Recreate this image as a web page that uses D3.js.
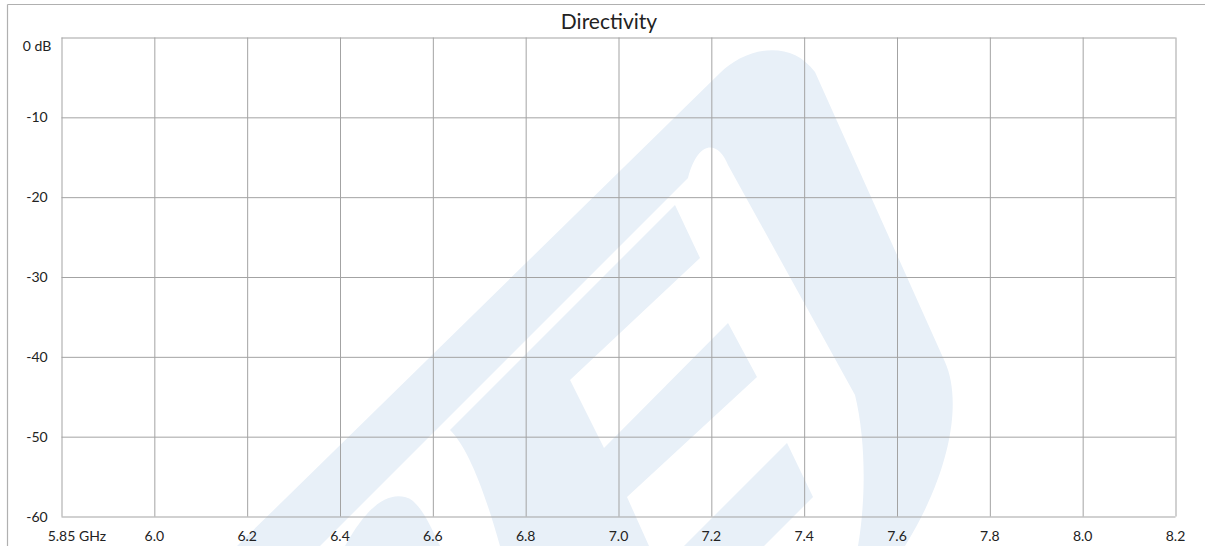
<!DOCTYPE html>
<html>
<head>
<meta charset="utf-8">
<script src="https://cdn.jsdelivr.net/npm/d3@7"></script>
<style>
  html, body { margin: 0; padding: 0; background: #ffffff; }
  svg { display: block; }
  text { font-family: Lato, "Open Sans", sans-serif; fill: #222; }
</style>
</head>
<body>
<svg id="chart" width="1205" height="546"></svg>
<script>
// ---- data ----
const title = "Directivity";
const categories = ["5.85", "6.0", "6.2", "6.4", "6.6", "6.8", "7.0", "7.2", "7.4", "7.6", "7.8", "8.0", "8.2"];
const xUnit = "GHz";
const yTicks = [0, -10, -20, -30, -40, -50, -60];
const yUnit = "dB";
const yDomain = [-60, 0];
// (the chart has no plotted series)
const seriesValues = [];

// ---- decoration: faint logo watermark behind the grid ----
const watermark = [
  "M237,546 L720,73 C745,48 790,38 815,72 L945,362 C962,400 952,470 905,546 L858,546 C866,500 866,440 855,395 L728,165 C718,140 698,140 688,178 L320,546 Z",
  "M500,546 C482,482 466,446 450,430 L675,205 L700,258 L570,380 L604,448 L728,323 L757,377 L627,497 L649,546 Z",
  "M684,546 L787,443 L813,497 L764,546 Z",
  "M345,546 C365,510 385,492 405,497 C418,500 428,520 440,546 Z"
];

const W = 1205, H = 546;
const margin = { left: 61.5, right: 1175.5, top: 37.5, bottom: 516.5 };

const svg = d3.select("#chart");

// outer frame lines
svg.append("line").attr("x1", 7.5).attr("x2", W).attr("y1", 4.5).attr("y2", 4.5)
  .attr("stroke", "#b0b0b0").attr("stroke-width", 1.2);
svg.append("line").attr("x1", 7.5).attr("x2", 7.5).attr("y1", 4.5).attr("y2", H)
  .attr("stroke", "#b0b0b0").attr("stroke-width", 1.2);

// watermark
svg.append("g").selectAll("path").data(watermark).join("path")
  .attr("d", d => d).attr("fill", "#e8f0f8");

const x = d3.scalePoint().domain(categories).range([margin.left, margin.right]);
const y = d3.scaleLinear().domain(yDomain).range([margin.bottom, margin.top]);

const gridColor = "#a3a3a3";

// vertical grid via axis
const xGrid = svg.append("g")
  .attr("transform", `translate(0,${margin.bottom})`)
  .call(d3.axisBottom(x).tickSize(-(margin.bottom - margin.top)).tickFormat(""));
xGrid.select(".domain").remove();
xGrid.selectAll(".tick line").attr("stroke", gridColor).attr("stroke-width", 1);

// horizontal grid via axis
const yGrid = svg.append("g")
  .attr("transform", `translate(${margin.left},0)`)
  .call(d3.axisLeft(y).tickValues(yTicks).tickSize(-(margin.right - margin.left)).tickFormat(""));
yGrid.select(".domain").remove();
yGrid.selectAll(".tick line").attr("stroke", gridColor).attr("stroke-width", 1);

// y labels (centered in the left gutter)
svg.append("g").selectAll("text").data(yTicks).join("text")
  .attr("x", 37)
  .attr("y", d => y(d) + (d === yDomain[1] ? 8 : 0))
  .attr("dy", "0.36em")
  .attr("text-anchor", "middle")
  .style("font-size", "14px")
  .text(d => d === yDomain[1] ? `${d} ${yUnit}` : String(d));

// x labels
const xl = svg.append("g").selectAll("text").data(categories).join("text")
  .attr("y", 541)
  .style("font-size", "14px")
  .attr("text-anchor", (d, i) => i === 0 ? "start" : "middle")
  .text(d => d)
  .attr("x", d => x(d));
// first label: number centred on its gridline, unit appended
xl.filter((d, i) => i === 0).each(function (d) {
  const w = this.getComputedTextLength();
  d3.select(this).attr("x", x(d) - w / 2).text(`${d} ${xUnit}`);
});

// title
svg.append("text")
  .attr("x", 609).attr("y", 29)
  .attr("text-anchor", "middle")
  .style("font-size", "21px")
  .text(title);
</script>
</body>
</html>
